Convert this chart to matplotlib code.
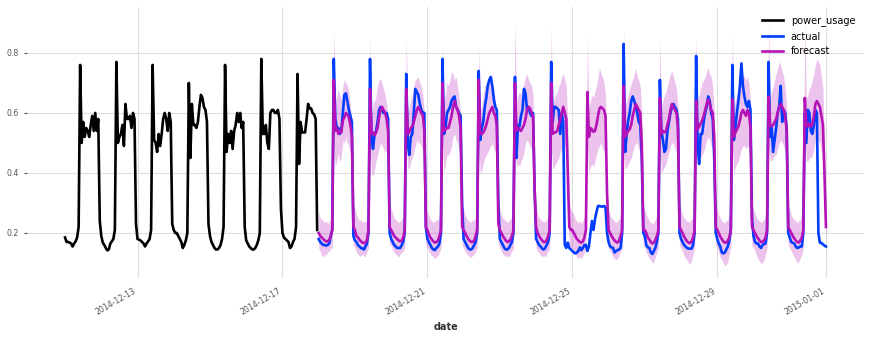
import matplotlib
matplotlib.use("Agg")
import matplotlib.pyplot as plt
import matplotlib.dates as mdates
import numpy as np
import pandas as pd

# Hourly power usage, one row of 24 values per day.
# Training history: 2014-12-11 .. 2014-12-17
power_usage = [
    [0.185, 0.17, 0.17, 0.168, 0.165, 0.155, 0.165, 0.172, 0.185, 0.22, 0.76, 0.50, 0.57, 0.52, 0.55, 0.54, 0.52, 0.56, 0.59, 0.54, 0.60, 0.54, 0.58, 0.24],
    [0.19, 0.168, 0.16, 0.15, 0.142, 0.145, 0.165, 0.172, 0.18, 0.21, 0.77, 0.50, 0.52, 0.53, 0.56, 0.49, 0.63, 0.58, 0.58, 0.59, 0.55, 0.60, 0.58, 0.23],
    [0.18, 0.178, 0.175, 0.17, 0.165, 0.155, 0.165, 0.172, 0.18, 0.21, 0.76, 0.51, 0.50, 0.47, 0.53, 0.49, 0.53, 0.58, 0.60, 0.58, 0.54, 0.60, 0.57, 0.23],
    [0.21, 0.20, 0.20, 0.19, 0.18, 0.17, 0.15, 0.16, 0.175, 0.20, 0.70, 0.45, 0.63, 0.56, 0.56, 0.55, 0.57, 0.62, 0.66, 0.65, 0.62, 0.61, 0.57, 0.23],
    [0.19, 0.17, 0.16, 0.15, 0.145, 0.145, 0.15, 0.16, 0.18, 0.22, 0.76, 0.47, 0.53, 0.50, 0.54, 0.48, 0.54, 0.56, 0.60, 0.57, 0.60, 0.55, 0.57, 0.22],
    [0.175, 0.165, 0.155, 0.15, 0.145, 0.145, 0.15, 0.16, 0.175, 0.20, 0.78, 0.53, 0.53, 0.56, 0.50, 0.48, 0.60, 0.61, 0.61, 0.60, 0.60, 0.61, 0.58, 0.28],
    [0.20, 0.185, 0.18, 0.175, 0.17, 0.15, 0.155, 0.17, 0.18, 0.22, 0.73, 0.43, 0.57, 0.535, 0.535, 0.535, 0.58, 0.63, 0.615, 0.615, 0.60, 0.595, 0.58, 0.21],
]

# Validation period: 2014-12-18 .. 2014-12-31, plus 2015-01-01 00:00
actual = [
    [0.18, 0.17, 0.165, 0.16, 0.16, 0.158, 0.16, 0.165, 0.19, 0.21, 0.78, 0.58, 0.55, 0.55, 0.53, 0.54, 0.60, 0.66, 0.665, 0.64, 0.61, 0.59, 0.57, 0.19],
    [0.175, 0.17, 0.16, 0.155, 0.15, 0.148, 0.145, 0.155, 0.165, 0.20, 0.78, 0.51, 0.48, 0.53, 0.54, 0.57, 0.61, 0.62, 0.61, 0.60, 0.60, 0.60, 0.58, 0.20],
    [0.18, 0.17, 0.16, 0.155, 0.15, 0.15, 0.15, 0.16, 0.17, 0.20, 0.73, 0.50, 0.46, 0.52, 0.53, 0.60, 0.68, 0.67, 0.66, 0.63, 0.61, 0.60, 0.60, 0.22],
    [0.18, 0.17, 0.16, 0.15, 0.145, 0.143, 0.15, 0.155, 0.165, 0.20, 0.78, 0.53, 0.55, 0.60, 0.61, 0.62, 0.64, 0.65, 0.655, 0.62, 0.61, 0.60, 0.59, 0.30],
    [0.18, 0.17, 0.16, 0.15, 0.145, 0.145, 0.15, 0.16, 0.17, 0.20, 0.74, 0.51, 0.55, 0.57, 0.62, 0.65, 0.69, 0.71, 0.72, 0.69, 0.645, 0.62, 0.61, 0.30],
    [0.18, 0.17, 0.16, 0.15, 0.145, 0.145, 0.15, 0.16, 0.17, 0.20, 0.72, 0.45, 0.56, 0.555, 0.59, 0.61, 0.68, 0.665, 0.61, 0.62, 0.60, 0.59, 0.60, 0.35],
    [0.18, 0.17, 0.16, 0.155, 0.148, 0.145, 0.15, 0.16, 0.17, 0.20, 0.77, 0.57, 0.62, 0.62, 0.615, 0.61, 0.53, 0.60, 0.57, 0.16, 0.15, 0.168, 0.15, 0.145],
    [0.14, 0.135, 0.132, 0.135, 0.14, 0.152, 0.143, 0.15, 0.16, 0.16, 0.14, 0.155, 0.20, 0.24, 0.21, 0.245, 0.27, 0.29, 0.29, 0.288, 0.288, 0.29, 0.285, 0.20],
    [0.17, 0.155, 0.152, 0.15, 0.135, 0.14, 0.143, 0.145, 0.15, 0.20, 0.83, 0.47, 0.53, 0.575, 0.60, 0.64, 0.655, 0.64, 0.62, 0.60, 0.57, 0.56, 0.45, 0.20],
    [0.19, 0.16, 0.152, 0.15, 0.135, 0.13, 0.14, 0.15, 0.17, 0.20, 0.71, 0.54, 0.51, 0.47, 0.48, 0.54, 0.57, 0.60, 0.62, 0.63, 0.62, 0.61, 0.58, 0.20],
    [0.18, 0.17, 0.16, 0.155, 0.15, 0.148, 0.148, 0.148, 0.16, 0.20, 0.79, 0.50, 0.43, 0.53, 0.53, 0.57, 0.60, 0.62, 0.655, 0.64, 0.60, 0.58, 0.45, 0.20],
    [0.18, 0.165, 0.155, 0.135, 0.132, 0.135, 0.145, 0.155, 0.175, 0.21, 0.76, 0.51, 0.55, 0.60, 0.64, 0.69, 0.765, 0.69, 0.655, 0.63, 0.62, 0.64, 0.61, 0.25],
    [0.19, 0.17, 0.165, 0.165, 0.155, 0.15, 0.16, 0.163, 0.165, 0.20, 0.77, 0.52, 0.555, 0.47, 0.51, 0.55, 0.60, 0.62, 0.69, 0.57, 0.61, 0.60, 0.55, 0.20],
    [0.185, 0.17, 0.167, 0.165, 0.155, 0.15, 0.152, 0.155, 0.155, 0.20, 0.60, 0.50, 0.61, 0.60, 0.54, 0.53, 0.56, 0.61, 0.60, 0.20, 0.167, 0.167, 0.162, 0.158],
    [0.155],
]

# Probabilistic forecast over the validation period: median and 5%/95% quantiles
forecast = [
    [0.20, 0.19, 0.185, 0.18, 0.175, 0.172, 0.172, 0.178, 0.19, 0.21, 0.71, 0.54, 0.55, 0.53, 0.54, 0.535, 0.575, 0.585, 0.60, 0.595, 0.585, 0.56, 0.52, 0.22],
    [0.21, 0.19, 0.185, 0.178, 0.172, 0.168, 0.166, 0.168, 0.178, 0.21, 0.68, 0.53, 0.535, 0.525, 0.535, 0.55, 0.585, 0.61, 0.62, 0.61, 0.60, 0.58, 0.54, 0.22],
    [0.21, 0.20, 0.19, 0.185, 0.18, 0.175, 0.172, 0.175, 0.185, 0.21, 0.68, 0.53, 0.535, 0.55, 0.555, 0.57, 0.59, 0.61, 0.62, 0.61, 0.60, 0.59, 0.54, 0.22],
    [0.21, 0.195, 0.185, 0.178, 0.172, 0.168, 0.17, 0.175, 0.19, 0.21, 0.70, 0.54, 0.545, 0.55, 0.55, 0.57, 0.59, 0.62, 0.64, 0.62, 0.61, 0.59, 0.55, 0.22],
    [0.21, 0.20, 0.19, 0.18, 0.175, 0.17, 0.17, 0.175, 0.19, 0.21, 0.71, 0.53, 0.53, 0.535, 0.545, 0.56, 0.58, 0.60, 0.61, 0.62, 0.60, 0.59, 0.56, 0.23],
    [0.21, 0.20, 0.19, 0.182, 0.175, 0.17, 0.172, 0.178, 0.19, 0.21, 0.70, 0.54, 0.55, 0.545, 0.54, 0.55, 0.56, 0.58, 0.61, 0.62, 0.615, 0.60, 0.59, 0.35],
    [0.22, 0.20, 0.19, 0.182, 0.175, 0.17, 0.17, 0.176, 0.19, 0.21, 0.70, 0.53, 0.535, 0.535, 0.54, 0.56, 0.58, 0.60, 0.62, 0.60, 0.58, 0.40, 0.22, 0.21],
    [0.21, 0.20, 0.19, 0.18, 0.175, 0.17, 0.168, 0.172, 0.185, 0.21, 0.67, 0.52, 0.55, 0.545, 0.537, 0.54, 0.56, 0.59, 0.615, 0.62, 0.615, 0.61, 0.59, 0.33],
    [0.21, 0.20, 0.19, 0.182, 0.175, 0.17, 0.168, 0.175, 0.19, 0.21, 0.69, 0.52, 0.53, 0.54, 0.545, 0.56, 0.59, 0.61, 0.63, 0.62, 0.61, 0.60, 0.50, 0.21],
    [0.21, 0.20, 0.185, 0.178, 0.17, 0.165, 0.168, 0.177, 0.19, 0.21, 0.65, 0.53, 0.54, 0.535, 0.54, 0.56, 0.58, 0.61, 0.63, 0.62, 0.61, 0.60, 0.55, 0.22],
    [0.21, 0.20, 0.188, 0.18, 0.172, 0.168, 0.166, 0.172, 0.185, 0.21, 0.64, 0.545, 0.555, 0.565, 0.575, 0.59, 0.61, 0.63, 0.645, 0.63, 0.61, 0.60, 0.52, 0.22],
    [0.21, 0.20, 0.188, 0.18, 0.172, 0.168, 0.168, 0.175, 0.185, 0.21, 0.645, 0.52, 0.535, 0.545, 0.555, 0.575, 0.60, 0.61, 0.60, 0.59, 0.61, 0.60, 0.55, 0.22],
    [0.21, 0.20, 0.19, 0.182, 0.175, 0.17, 0.17, 0.175, 0.185, 0.21, 0.655, 0.56, 0.555, 0.56, 0.57, 0.58, 0.60, 0.62, 0.63, 0.62, 0.61, 0.59, 0.54, 0.22],
    [0.21, 0.20, 0.19, 0.182, 0.175, 0.17, 0.168, 0.175, 0.185, 0.21, 0.65, 0.56, 0.555, 0.565, 0.555, 0.56, 0.59, 0.63, 0.64, 0.63, 0.62, 0.59, 0.56, 0.40],
    [0.22],
]

forecast_low = [
    [0.15, 0.14, 0.125, 0.12, 0.13, 0.125, 0.14, 0.135, 0.15, 0.15, 0.50, 0.42, 0.44, 0.465, 0.435, 0.455, 0.51, 0.50, 0.52, 0.50, 0.49, 0.46, 0.40, 0.16],
    [0.15, 0.135, 0.13, 0.12, 0.125, 0.13, 0.12, 0.125, 0.14, 0.15, 0.49, 0.40, 0.39, 0.41, 0.44, 0.46, 0.48, 0.50, 0.49, 0.48, 0.47, 0.47, 0.41, 0.16],
    [0.16, 0.145, 0.135, 0.13, 0.125, 0.12, 0.13, 0.135, 0.14, 0.15, 0.50, 0.42, 0.41, 0.44, 0.45, 0.47, 0.49, 0.51, 0.50, 0.50, 0.49, 0.47, 0.41, 0.16],
    [0.15, 0.14, 0.13, 0.125, 0.12, 0.115, 0.12, 0.125, 0.135, 0.15, 0.50, 0.40, 0.43, 0.46, 0.46, 0.47, 0.49, 0.52, 0.53, 0.51, 0.50, 0.48, 0.42, 0.16],
    [0.15, 0.14, 0.13, 0.125, 0.12, 0.12, 0.125, 0.13, 0.14, 0.15, 0.50, 0.40, 0.41, 0.43, 0.45, 0.46, 0.47, 0.48, 0.49, 0.50, 0.48, 0.47, 0.42, 0.16],
    [0.15, 0.14, 0.13, 0.125, 0.12, 0.125, 0.12, 0.13, 0.14, 0.15, 0.50, 0.42, 0.43, 0.42, 0.44, 0.45, 0.47, 0.50, 0.51, 0.50, 0.49, 0.48, 0.46, 0.26],
    [0.15, 0.14, 0.135, 0.125, 0.12, 0.125, 0.12, 0.13, 0.14, 0.15, 0.50, 0.41, 0.42, 0.43, 0.44, 0.45, 0.47, 0.48, 0.50, 0.49, 0.47, 0.31, 0.16, 0.15],
    [0.15, 0.14, 0.13, 0.12, 0.115, 0.12, 0.115, 0.125, 0.135, 0.15, 0.49, 0.40, 0.42, 0.43, 0.42, 0.44, 0.46, 0.48, 0.49, 0.50, 0.48, 0.47, 0.45, 0.22],
    [0.15, 0.14, 0.13, 0.12, 0.115, 0.11, 0.115, 0.125, 0.14, 0.15, 0.50, 0.41, 0.42, 0.43, 0.44, 0.45, 0.47, 0.49, 0.50, 0.50, 0.48, 0.47, 0.38, 0.16],
    [0.15, 0.135, 0.125, 0.115, 0.11, 0.10, 0.105, 0.12, 0.135, 0.15, 0.49, 0.40, 0.41, 0.42, 0.43, 0.45, 0.47, 0.49, 0.50, 0.50, 0.48, 0.47, 0.41, 0.16],
    [0.15, 0.14, 0.125, 0.115, 0.11, 0.10, 0.095, 0.11, 0.13, 0.15, 0.49, 0.42, 0.44, 0.45, 0.46, 0.47, 0.49, 0.51, 0.52, 0.51, 0.49, 0.48, 0.40, 0.16],
    [0.15, 0.135, 0.12, 0.11, 0.10, 0.09, 0.095, 0.105, 0.13, 0.15, 0.49, 0.40, 0.42, 0.43, 0.44, 0.46, 0.48, 0.49, 0.49, 0.48, 0.49, 0.48, 0.42, 0.16],
    [0.15, 0.14, 0.125, 0.115, 0.105, 0.10, 0.10, 0.11, 0.13, 0.15, 0.50, 0.44, 0.44, 0.45, 0.46, 0.46, 0.48, 0.50, 0.51, 0.50, 0.49, 0.47, 0.41, 0.16],
    [0.15, 0.14, 0.13, 0.12, 0.11, 0.10, 0.105, 0.115, 0.13, 0.15, 0.50, 0.44, 0.44, 0.45, 0.45, 0.46, 0.48, 0.51, 0.52, 0.51, 0.50, 0.47, 0.44, 0.30],
    [0.16],
]

forecast_high = [
    [0.27, 0.25, 0.245, 0.24, 0.235, 0.24, 0.23, 0.24, 0.25, 0.28, 0.88, 0.63, 0.655, 0.68, 0.66, 0.645, 0.69, 0.71, 0.70, 0.69, 0.67, 0.62, 0.58, 0.29],
    [0.28, 0.26, 0.25, 0.24, 0.245, 0.235, 0.24, 0.235, 0.25, 0.28, 0.855, 0.58, 0.63, 0.64, 0.655, 0.69, 0.71, 0.715, 0.70, 0.68, 0.66, 0.63, 0.59, 0.29],
    [0.28, 0.265, 0.25, 0.245, 0.24, 0.235, 0.24, 0.245, 0.255, 0.28, 0.85, 0.60, 0.62, 0.645, 0.66, 0.69, 0.71, 0.715, 0.72, 0.70, 0.69, 0.66, 0.60, 0.29],
    [0.27, 0.26, 0.245, 0.24, 0.235, 0.24, 0.245, 0.24, 0.26, 0.28, 0.83, 0.64, 0.66, 0.70, 0.69, 0.71, 0.74, 0.73, 0.71, 0.72, 0.69, 0.65, 0.60, 0.29],
    [0.28, 0.26, 0.25, 0.24, 0.24, 0.235, 0.245, 0.24, 0.255, 0.28, 0.82, 0.61, 0.62, 0.66, 0.69, 0.70, 0.71, 0.72, 0.72, 0.70, 0.68, 0.64, 0.60, 0.29],
    [0.28, 0.26, 0.25, 0.245, 0.24, 0.235, 0.24, 0.245, 0.26, 0.28, 0.90, 0.63, 0.66, 0.67, 0.66, 0.68, 0.70, 0.72, 0.73, 0.71, 0.70, 0.69, 0.66, 0.38],
    [0.29, 0.265, 0.25, 0.245, 0.24, 0.24, 0.235, 0.245, 0.255, 0.28, 0.89, 0.62, 0.65, 0.66, 0.67, 0.69, 0.70, 0.72, 0.73, 0.71, 0.69, 0.55, 0.30, 0.28],
    [0.27, 0.26, 0.245, 0.24, 0.235, 0.24, 0.23, 0.24, 0.255, 0.28, 0.86, 0.61, 0.64, 0.66, 0.65, 0.67, 0.69, 0.72, 0.75, 0.73, 0.72, 0.70, 0.66, 0.36],
    [0.28, 0.26, 0.25, 0.245, 0.24, 0.235, 0.24, 0.245, 0.26, 0.28, 0.88, 0.62, 0.64, 0.66, 0.68, 0.70, 0.71, 0.73, 0.75, 0.72, 0.71, 0.69, 0.60, 0.29],
    [0.28, 0.26, 0.25, 0.24, 0.235, 0.23, 0.235, 0.245, 0.26, 0.28, 0.845, 0.62, 0.64, 0.66, 0.67, 0.69, 0.71, 0.73, 0.74, 0.72, 0.70, 0.68, 0.62, 0.29],
    [0.28, 0.26, 0.25, 0.245, 0.24, 0.235, 0.24, 0.245, 0.255, 0.28, 0.855, 0.64, 0.66, 0.68, 0.70, 0.71, 0.72, 0.74, 0.75, 0.73, 0.72, 0.69, 0.60, 0.29],
    [0.28, 0.26, 0.25, 0.24, 0.235, 0.235, 0.24, 0.245, 0.26, 0.28, 0.86, 0.62, 0.64, 0.66, 0.68, 0.70, 0.71, 0.73, 0.72, 0.71, 0.72, 0.70, 0.63, 0.29],
    [0.28, 0.265, 0.25, 0.245, 0.24, 0.235, 0.24, 0.245, 0.26, 0.28, 0.90, 0.65, 0.67, 0.69, 0.71, 0.73, 0.75, 0.77, 0.76, 0.74, 0.72, 0.68, 0.62, 0.29],
    [0.28, 0.26, 0.25, 0.245, 0.24, 0.235, 0.24, 0.245, 0.26, 0.28, 0.91, 0.65, 0.66, 0.68, 0.69, 0.71, 0.73, 0.76, 0.78, 0.77, 0.76, 0.72, 0.68, 0.50],
    [0.29],
]

palette = ["#000000", "#003DFD", "#B512B8"]


def flat(rows):
    return np.concatenate([np.asarray(r, dtype=float) for r in rows])


train_vals = flat(power_usage)
actual_vals = flat(actual)
median_vals = flat(forecast)
low_vals = flat(forecast_low)
high_vals = flat(forecast_high)

train_idx = pd.date_range("2014-12-11", periods=len(train_vals), freq="h")
val_idx = pd.date_range("2014-12-18", periods=len(actual_vals), freq="h")

plt.rcParams["font.family"] = ["DejaVu Sans"]

fig = plt.figure(figsize=(8.71, 3.39), dpi=100)
ax = fig.add_axes([27 / 871, 1 - 278 / 339, (864 - 27) / 871, (278 - 7) / 339])

ax.plot(train_idx, train_vals, color=palette[0], lw=1.9, label="power_usage")
ax.plot(val_idx, actual_vals, color=palette[1], lw=1.9, label="actual")
ax.fill_between(val_idx, low_vals, high_vals, color=palette[2], alpha=0.25, lw=0)
ax.plot(val_idx, median_vals, color=palette[2], lw=1.9, label="forecast")

for s in ax.spines.values():
    s.set_visible(False)
ax.grid(True, color="#dedede", lw=0.8)
ax.set_axisbelow(True)

ax.set_ylim(0.05, 0.953)
ax.set_yticks([0.2, 0.4, 0.6, 0.8])
ax.yaxis.set_major_formatter(matplotlib.ticker.FormatStrFormatter("%.1f"))

ax.xaxis.set_major_locator(mdates.DayLocator(bymonthday=[1, 5, 9, 13, 17, 21, 25, 29]))
ax.xaxis.set_major_formatter(mdates.DateFormatter("%Y-%m-%d"))
ax.margins(x=0.05)

ax.tick_params(axis="y", length=2.5, width=0.8, color="#555555", labelcolor="#555555",
               labelsize=5.6, pad=3.5)
ax.tick_params(axis="x", length=0, labelcolor="#555555", labelsize=5.6, pad=6)
for lbl in ax.get_xticklabels():
    lbl.set_rotation(30)
    lbl.set_ha("right")

ax.set_xlabel("date", fontsize=7, fontweight="bold", color="#333333", labelpad=4)

ax.legend(loc="upper right", frameon=False, fontsize=7, handlelength=2.2)

fig.savefig("out.png", dpi=100)
